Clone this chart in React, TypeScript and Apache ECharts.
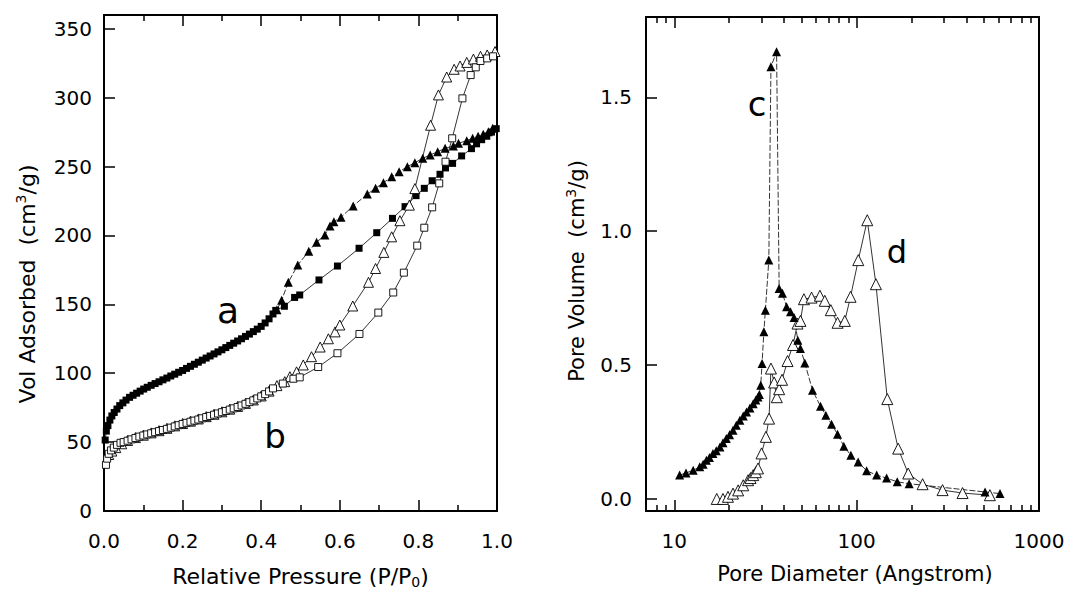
import React, { useEffect, useRef } from 'react';
import * as echarts from 'echarts';

const FONT = "'DejaVu Sans', 'Liberation Sans', sans-serif";

// ---------- Left panel: N2 isotherms ----------
const aAdsP = [0.003, 0.006, 0.01, 0.015, 0.02, 0.026, 0.033, 0.04, 0.048, 0.056, 0.065, 0.074, 0.083, 0.092, 0.101, 0.11, 0.12, 0.13, 0.14, 0.15, 0.16, 0.17, 0.18, 0.19, 0.2, 0.21, 0.22, 0.23, 0.24, 0.25, 0.26, 0.27, 0.28, 0.29, 0.3, 0.31, 0.32, 0.33, 0.34, 0.35, 0.36, 0.37, 0.38, 0.39, 0.4, 0.41, 0.42, 0.43, 0.437, 0.459, 0.485, 0.498, 0.547, 0.594, 0.649, 0.694, 0.734, 0.766, 0.794, 0.815, 0.835, 0.855, 0.869, 0.887, 0.91, 0.935, 0.948, 0.961, 0.974, 0.986, 0.998];
const aAdsV = [51.5, 58, 62, 66, 69, 71.5, 74, 76.5, 78.5, 80.5, 82.5, 84, 85.5, 87, 88.5, 89.8, 91.2, 92.5, 93.8, 95.2, 96.5, 98, 99.3, 100.7, 102, 103.5, 105, 106.5, 108, 109.5, 111, 112.5, 114, 115.5, 117, 118.6, 120.2, 121.8, 123.4, 125, 126.7, 128.4, 130.2, 132, 134, 136.5, 139.5, 143, 145.6, 148.6, 155, 156.8, 167.7, 177.8, 190.7, 202, 212.4, 220.9, 228.9, 234.2, 239.7, 244.4, 249, 252.3, 257.7, 263, 266.5, 269.5, 272, 275, 277.5];
const aDesP = [0.44, 0.452, 0.469, 0.493, 0.521, 0.541, 0.562, 0.575, 0.585, 0.603, 0.634, 0.67, 0.691, 0.711, 0.732, 0.751, 0.772, 0.791, 0.811, 0.83, 0.849, 0.868, 0.889, 0.902, 0.923, 0.938, 0.952, 0.965, 0.978, 0.989];
const aDesV = [146, 153, 166, 178.5, 188.5, 195, 200.4, 206.8, 210, 213.2, 221.4, 230, 234.2, 238.3, 242.6, 246.3, 249.9, 252.8, 256, 258.4, 260.8, 263.2, 265, 266.9, 268.8, 270.5, 272, 273.4, 275.3, 277.8];
const bAdsP = [0.005, 0.008, 0.012, 0.018, 0.025, 0.033, 0.042, 0.05, 0.06, 0.07, 0.08, 0.09, 0.1, 0.11, 0.12, 0.13, 0.14, 0.15, 0.16, 0.17, 0.18, 0.19, 0.2, 0.21, 0.22, 0.23, 0.24, 0.25, 0.26, 0.27, 0.28, 0.29, 0.3, 0.31, 0.32, 0.33, 0.34, 0.35, 0.36, 0.37, 0.38, 0.39, 0.4, 0.41, 0.42, 0.43, 0.455, 0.482, 0.498, 0.545, 0.594, 0.65, 0.698, 0.736, 0.763, 0.797, 0.815, 0.835, 0.853, 0.869, 0.886, 0.912, 0.933, 0.946, 0.958, 0.975, 0.99];
const bAdsV = [33.5, 38, 41.5, 44, 46, 48, 49.5, 50, 51, 52, 53, 54, 54.8, 55.6, 56.4, 57.2, 58, 58.8, 59.6, 60.5, 61.4, 62.3, 63.2, 64, 64.8, 65.6, 66.4, 67.3, 68.2, 69, 69.9, 70.8, 71.7, 72.6, 73.6, 74.5, 75.5, 76.6, 77.8, 79, 80.3, 81.7, 83.2, 84.8, 86.8, 89, 92.5, 96, 97, 104.5, 114.5, 128.5, 144, 158.6, 173, 192.6, 205.6, 220.4, 237.8, 253.5, 270.5, 299.5, 316.4, 322, 326.6, 328.5, 330];
const bDesP = [0.012, 0.02, 0.03, 0.045, 0.06, 0.08, 0.1, 0.12, 0.14, 0.16, 0.18, 0.2, 0.22, 0.24, 0.26, 0.28, 0.3, 0.32, 0.34, 0.36, 0.38, 0.4, 0.42, 0.44, 0.46, 0.473, 0.49, 0.507, 0.528, 0.55, 0.571, 0.588, 0.6, 0.633, 0.673, 0.691, 0.712, 0.732, 0.753, 0.777, 0.791, 0.831, 0.851, 0.872, 0.891, 0.906, 0.923, 0.94, 0.958, 0.975, 0.995];
const bDesV = [41, 43.5, 46, 48.8, 51.2, 53.3, 55, 56.7, 58.3, 60, 61.8, 63.5, 65.2, 66.8, 68.5, 70.2, 72, 73.9, 75.9, 78.1, 80.6, 83.5, 87, 91, 93.9, 97.5, 101, 106, 112, 119, 125, 130, 135, 148.8, 166, 176, 187.7, 199, 210.7, 222, 234, 280, 302, 315, 320.6, 323, 325.6, 328, 330, 331, 333.5];

// ---------- Right panel: pore size distributions ----------
const cDiam = [10.7, 11.6, 12.7, 13.8, 14.4, 15.0, 15.6, 16.3, 17.0, 17.8, 18.5, 19.3, 20.1, 21.0, 21.9, 22.9, 23.9, 24.9, 26.0, 27.1, 28.0, 28.8, 29.3, 29.8, 30.3, 31.0, 31.6, 33.0, 33.9, 36.4, 37.6, 39.2, 41.3, 43.4, 45.4, 47.6, 49.2, 52.0, 57.3, 63.4, 67.8, 72.9, 78.6, 85.1, 93.0, 102, 113.5, 128.8, 146, 167, 194, 506, 611];
const cVol = [0.089, 0.097, 0.107, 0.12, 0.13, 0.145, 0.155, 0.17, 0.18, 0.194, 0.21, 0.226, 0.24, 0.257, 0.275, 0.294, 0.31, 0.325, 0.34, 0.356, 0.37, 0.381, 0.39, 0.425, 0.506, 0.624, 0.705, 0.892, 1.614, 1.670, 0.786, 0.768, 0.718, 0.699, 0.678, 0.593, 0.562, 0.508, 0.406, 0.346, 0.313, 0.279, 0.242, 0.197, 0.163, 0.138, 0.105, 0.089, 0.078, 0.064, 0.057, 0.026, 0.020];
const dDiam = [17.1, 18.5, 19.7, 21.0, 22.4, 23.9, 25.4, 26.2, 27.1, 28.0, 28.8, 30.1, 31.8, 33.1, 33.9, 35.3, 36.5, 37.6, 39.0, 41.8, 44.8, 47.4, 49.2, 51.4, 56.6, 62.9, 66.9, 72.2, 78.6, 86.1, 92.6, 102.1, 114.4, 127.6, 147.3, 169, 191.8, 230, 296, 381, 538];
const dVol = [0.0, 0.0, 0.008, 0.02, 0.032, 0.051, 0.07, 0.078, 0.089, 0.1, 0.114, 0.17, 0.232, 0.30, 0.487, 0.435, 0.38, 0.41, 0.445, 0.515, 0.575, 0.655, 0.665, 0.746, 0.752, 0.759, 0.74, 0.705, 0.658, 0.665, 0.755, 0.892, 1.041, 0.802, 0.373, 0.188, 0.095, 0.055, 0.033, 0.022, 0.014];

// ---------- Axis ranges / ticks ----------
const pressureStep = 0.2;
const volStep = 50;
const poreVolStep = 0.5;
const logMin = 7;
const logMax = 1000;
const logMinorDigits = [2, 3, 4, 5, 6, 7, 8, 9];

const zip = (xs: number[], ys: number[]) => xs.map((x, i) => [x, ys[i]]);

// global axis indices of the helper axes whose zero sits on a frame edge
const X_H1_LEFT = 20;
const X_H0_RIGHT = 21;
const X_H1_RIGHT = 22;
const Y_H0_TOP = 4;
const Y_H1_BOTTOM = 5;
const Y_H1_TOP = 6;

export default function App() {
  const ref = useRef<HTMLDivElement>(null);

  useEffect(() => {
    const chart = echarts.init(ref.current!, undefined, { renderer: 'svg' });
    const label = { color: '#000', fontSize: 20, fontFamily: FONT };
    const rich = {
      sub: { fontSize: 14, fontFamily: FONT, color: '#000', padding: [12, 0, 0, 0] },
      sup: { fontSize: 14, fontFamily: FONT, color: '#000', padding: [0, 0, 12, 0] },
    };
    const nameStyle = (size: number, padding: number[]) => ({
      color: '#000', fontSize: size, fontFamily: FONT, padding, rich,
    });
    const frameLine = (zi: number) => ({ show: true, onZero: true, onZeroAxisIndex: zi, lineStyle: { color: '#000', width: 2 } });
    const noLine = (zi: number) => ({ show: false, onZero: true, onZeroAxisIndex: zi });
    const majorTick = { show: true, inside: true, length: 11, lineStyle: { color: '#000', width: 1.5 } };
    const shortTick = { show: true, inside: true, length: 6, lineStyle: { color: '#000', width: 1.5 } };
    const hidden = (gridIndex: number, min: number, max: number) => ({ gridIndex, type: 'value', min, max, show: false });

    const minorLogAxes: any[] = [];
    (['bottom', 'top'] as const).forEach((pos) => {
      logMinorDigits.forEach((dgt) => {
        const s = Math.log10(dgt);
        minorLogAxes.push({
          gridIndex: 1, type: 'value', position: pos,
          min: Math.log10(logMin) - s, max: Math.log10(logMax) - s,
          minInterval: 1, maxInterval: 1,
          axisLine: noLine(pos === 'bottom' ? Y_H1_BOTTOM : Y_H1_TOP), axisTick: shortTick,
          splitLine: { show: false }, axisLabel: { show: false },
        });
      });
    });

    const mk = (data: number[][], xi: number, yi: number, symbol: string, size: number, filled: boolean, dashed: boolean) => ({
      type: 'line',
      data,
      xAxisIndex: xi,
      yAxisIndex: yi,
      symbol,
      symbolSize: size,
      showSymbol: true,
      itemStyle: { color: filled ? '#000' : '#fff', borderColor: '#000', borderWidth: filled ? 0 : 0.9 },
      lineStyle: { color: '#000', width: 0.8, type: dashed ? [6, 2] : 'solid' },
      emphasis: { disabled: true },
      silent: true,
    });

    chart.setOption({
      animation: false,
      backgroundColor: '#fff',
      grid: [
        { left: 104, top: 15, width: 393, height: 496, show: false, outerBoundsMode: 'none', containLabel: false },
        { left: 646, top: 17, width: 393, height: 494, show: false, outerBoundsMode: 'none', containLabel: false },
      ],
      xAxis: [
        {
          gridIndex: 0, type: 'value', position: 'bottom', min: 0, max: 1, interval: pressureStep,
          axisLine: frameLine(0),
          axisTick: majorTick,
          minorTick: { ...shortTick, splitNumber: 2 },
          splitLine: { show: false },
          axisLabel: { ...label, margin: 20, formatter: (v: number) => v.toFixed(1) },
          name: 'Relative Pressure (P/P{sub|0})', nameLocation: 'middle', nameGap: 52,
          nameTextStyle: nameStyle(22, [0, 0, 0, 0]),
        },
        {
          gridIndex: 0, type: 'value', position: 'top', min: 0, max: 1, interval: pressureStep,
          axisLine: frameLine(Y_H0_TOP),
          axisTick: majorTick,
          minorTick: { ...shortTick, splitNumber: 2 },
          splitLine: { show: false },
          axisLabel: { show: false },
        },
        {
          gridIndex: 1, type: 'log', logBase: 10, position: 'bottom', min: logMin, max: logMax,
          axisLine: frameLine(Y_H1_BOTTOM),
          axisTick: majorTick,
          splitLine: { show: false },
          axisLabel: { ...label, margin: 20, showMinLabel: false, formatter: (v: number) => String(Math.round(v)) },
          name: 'Pore Diameter (Angstrom)', nameLocation: 'middle', nameGap: 52,
          nameTextStyle: nameStyle(21, [0, 0, 0, 25]),
        },
        {
          gridIndex: 1, type: 'log', logBase: 10, position: 'top', min: logMin, max: logMax,
          axisLine: frameLine(Y_H1_TOP),
          axisTick: majorTick,
          splitLine: { show: false },
          axisLabel: { show: false },
        },
        ...minorLogAxes,
        hidden(1, 0, 1),   // 20: zero on grid1 left edge
        hidden(0, -1, 0),  // 21: zero on grid0 right edge
        hidden(1, -1, 0),  // 22: zero on grid1 right edge
      ],
      yAxis: [
        {
          gridIndex: 0, type: 'value', position: 'left', min: 0, max: 360, interval: volStep,
          axisLine: frameLine(0),
          axisTick: majorTick,
          splitLine: { show: false },
          axisLabel: { ...label, margin: 12, showMaxLabel: false },
          name: 'Vol Adsorbed  (cm{sup|3}/g)', nameLocation: 'middle', nameGap: 64,
          nameTextStyle: nameStyle(22, [0, 42, 0, 0]),
        },
        {
          gridIndex: 1, type: 'value', position: 'left', min: -0.045, max: 1.8,
          minInterval: poreVolStep, maxInterval: poreVolStep,
          axisLine: frameLine(X_H1_LEFT),
          axisTick: majorTick,
          splitLine: { show: false },
          axisLabel: { ...label, margin: 14, showMinLabel: false, showMaxLabel: false, formatter: (v: number) => v.toFixed(1) },
          name: 'Pore Volume  (cm{sup|3}/g)', nameLocation: 'middle', nameGap: 56,
          nameTextStyle: nameStyle(21, [0, 14, 0, 0]),
        },
        {
          gridIndex: 0, type: 'value', position: 'right', min: 0, max: 360, interval: volStep,
          axisLine: frameLine(X_H0_RIGHT), axisTick: { show: false },
          splitLine: { show: false }, axisLabel: { show: false },
        },
        {
          gridIndex: 1, type: 'value', position: 'right', min: -0.045, max: 1.8,
          axisLine: frameLine(X_H1_RIGHT), axisTick: { show: false },
          splitLine: { show: false }, axisLabel: { show: false },
        },
        hidden(0, -1, 0),  // 4: zero on grid0 top edge
        hidden(1, 0, 1),   // 5: zero on grid1 bottom edge
        hidden(1, -1, 0),  // 6: zero on grid1 top edge
      ],
      series: [
        mk(zip(aDesP, aDesV), 0, 0, 'triangle', 9, true, true),
        mk(zip(aAdsP, aAdsV), 0, 0, 'rect', 7, true, false),
        mk(zip(bDesP, bDesV), 0, 0, 'triangle', 10, false, false),
        mk(zip(bAdsP, bAdsV), 0, 0, 'rect', 7, false, false),
        mk(zip(dDiam, dVol), 2, 1, 'triangle', 11, false, false),
        mk(zip(cDiam, cVol), 2, 1, 'triangle', 9, true, true),
      ],
      graphic: [
        { type: 'text', x: 228, y: 310, style: { text: 'a', fontSize: 36, fontFamily: FONT, fill: '#000', align: 'center', verticalAlign: 'middle' } },
        { type: 'text', x: 275, y: 436, style: { text: 'b', fontSize: 34, fontFamily: FONT, fill: '#000', align: 'center', verticalAlign: 'middle' } },
        { type: 'text', x: 757, y: 104, style: { text: 'c', fontSize: 34, fontFamily: FONT, fill: '#000', align: 'center', verticalAlign: 'middle' } },
        { type: 'text', x: 897, y: 252, style: { text: 'd', fontSize: 32, fontFamily: FONT, fill: '#000', align: 'center', verticalAlign: 'middle' } },
      ],
    });

    return () => chart.dispose();
  }, []);

  return (
    <div
      ref={ref}
      style={{ position: 'fixed', left: 0, top: 0, width: 1065, height: 589, background: '#fff' }}
    />
  );
}
